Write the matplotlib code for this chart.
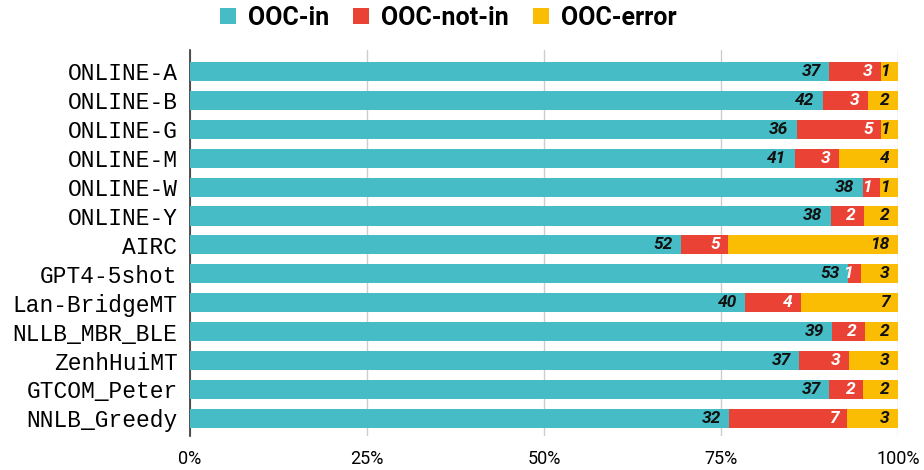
import matplotlib
matplotlib.use("Agg")
import matplotlib.pyplot as plt
from matplotlib.patches import Patch
import numpy as np

systems = ["ONLINE-A", "ONLINE-B", "ONLINE-G", "ONLINE-M", "ONLINE-W", "ONLINE-Y",
           "AIRC", "GPT4-5shot", "Lan-BridgeMT", "NLLB_MBR_BLE", "ZenhHuiMT",
           "GTCOM_Peter", "NNLB_Greedy"]
ooc_in = [37, 42, 36, 41, 38, 38, 52, 53, 40, 39, 37, 37, 32]
ooc_not_in = [3, 3, 5, 3, 1, 2, 5, 1, 4, 2, 3, 2, 7]
ooc_error = [1, 2, 1, 4, 1, 2, 18, 3, 7, 2, 3, 2, 3]

series_names = ["OOC-in", "OOC-not-in", "OOC-error"]
colors = ["#46BDC6", "#EA4335", "#FBBC04"]
text_colors = ["#111111", "white", "#111111"]

counts = np.array([ooc_in, ooc_not_in, ooc_error], dtype=float)
shares = counts / counts.sum(axis=0) * 100

fig = plt.figure(figsize=(9.24, 4.70), dpi=100)
ax = fig.add_axes([190 / 924, 1 - 436 / 470, 708 / 924, 386 / 470])

y = np.arange(len(systems))
left = np.zeros(len(systems))
for k in range(3):
    ax.barh(y, shares[k], left=left, height=0.66, color=colors[k], zorder=3)
    for i in range(len(systems)):
        ax.annotate(f"{int(counts[k, i])}", (left[i] + shares[k, i], y[i]),
                    xytext=(-6, 0), textcoords="offset points",
                    ha="right", va="center", fontsize=12.5, fontweight="bold",
                    fontstyle="italic", family="Roboto", color=text_colors[k],
                    zorder=4)
    left += shares[k]

ax.set_xlim(0, 100)
ax.set_ylim(12.61, -0.74)
ax.set_yticks(y)
ax.set_yticklabels(systems, family="Liberation Mono", fontsize=16.5)
ax.set_xticks([0, 25, 50, 75, 100])
ax.set_xticklabels(["0%", "25%", "50%", "75%", "100%"], family="Roboto", fontsize=13)
ax.tick_params(axis="y", length=0, pad=9)
ax.tick_params(axis="x", length=0, pad=10)
ax.grid(axis="x", color="#cccccc", linewidth=1, zorder=0)
for s in ["top", "right", "bottom"]:
    ax.spines[s].set_visible(False)
ax.spines["left"].set_color("#333333")
ax.spines["left"].set_linewidth(1.2)

handles = [Patch(facecolor=c, edgecolor="none") for c in colors]
fig.legend(handles, series_names, loc="center", bbox_to_anchor=(448 / 924, 1 - 18 / 470),
           ncol=3, frameon=False, prop={"family": "Roboto", "weight": "bold", "size": 18},
           handlelength=0.64, handleheight=0.64, handletextpad=0.48, columnspacing=0.96)

fig.savefig("out.png", dpi=100)
